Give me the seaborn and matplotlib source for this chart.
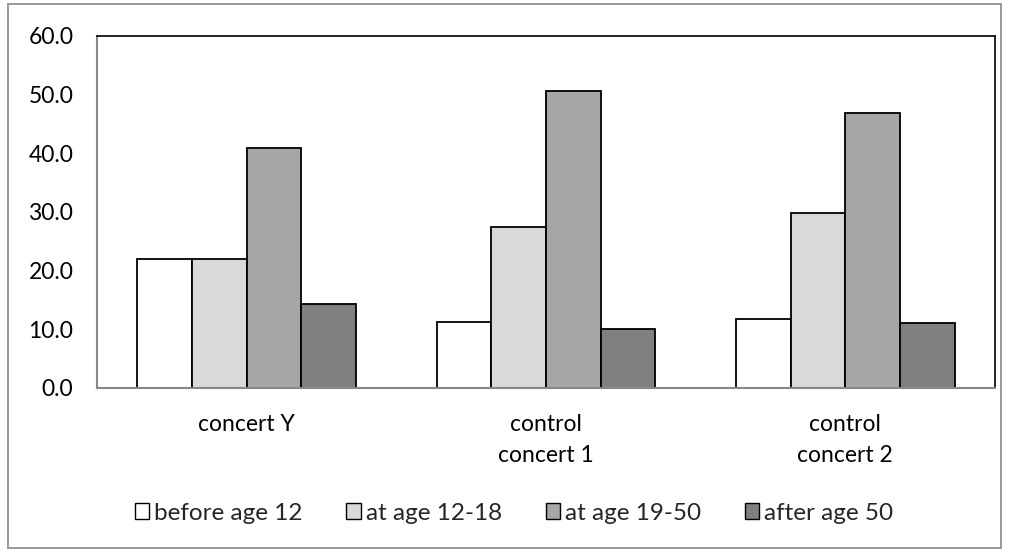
import pandas as pd
import seaborn as sns
import matplotlib.pyplot as plt
from matplotlib.patches import Rectangle

# dados
concerts = ['concert Y', 'control\nconcert 1', 'control\nconcert 2']
age_groups = ['before age 12', 'at age 12-18', 'at age 19-50', 'after age 50']
before_12 = [22.0, 11.2, 11.7]
age_12_18 = [22.0, 27.4, 29.8]
age_19_50 = [40.9, 50.7, 46.8]
after_50 = [14.3, 10.0, 11.0]

colors = ['#ffffff', '#d9d9d9', '#a6a6a6', '#808080']

rows = []
for grp, vals in zip(age_groups, [before_12, age_12_18, age_19_50, after_50]):
    for c, v in zip(concerts, vals):
        rows.append({'concert': c, 'group': grp, 'value': v})
df = pd.DataFrame(rows)

sns.set_style('white')
plt.rcParams['font.family'] = ['Lato', 'DejaVu Sans']

fig = plt.figure(figsize=(10.09, 5.52), dpi=100)
ax = fig.add_axes([97 / 1009, 1 - 388 / 552, 898 / 1009, 352 / 552])

sns.barplot(data=df, x='concert', y='value', hue='group', order=concerts,
            hue_order=age_groups, palette=colors, width=0.73, gap=0,
            edgecolor='black', linewidth=1.3, ax=ax)

ax.set_ylim(0, 60)
ax.set_xlim(-0.5, 2.5)
ax.set_yticks(range(0, 61, 10))
ax.set_yticklabels([f'{v:.1f}' for v in range(0, 61, 10)])
ax.set_xlabel('')
ax.set_ylabel('')
ax.tick_params(axis='both', length=0, labelsize=16.5, colors='black')
ax.tick_params(axis='y', pad=17)
ax.tick_params(axis='x', pad=19)
for lab in ax.get_xticklabels():
    lab.set_linespacing(1.55)

for s in ['top', 'right']:
    ax.spines[s].set_color('black')
    ax.spines[s].set_linewidth(1.2)
for s in ['left', 'bottom']:
    ax.spines[s].set_color('#888888')
    ax.spines[s].set_linewidth(1.5)

ax.legend_.remove()
handles = [Rectangle((0, 0), 1, 1, facecolor=c, edgecolor='black', linewidth=1.0) for c in colors]
fig.legend(handles, age_groups, loc='center', bbox_to_anchor=(514 / 1009, 1 - 513 / 552),
           ncol=4, frameon=False, fontsize=17.5, handlelength=0.6, handleheight=0.6,
           handletextpad=0.2, columnspacing=1.8)

# borda externa
fig.patches.append(Rectangle((8 / 1009, 4 / 552), 993 / 1009, 544 / 552,
                             transform=fig.transFigure, fill=False,
                             edgecolor='#888888', linewidth=1.2))

fig.savefig('out.png', dpi=100)
